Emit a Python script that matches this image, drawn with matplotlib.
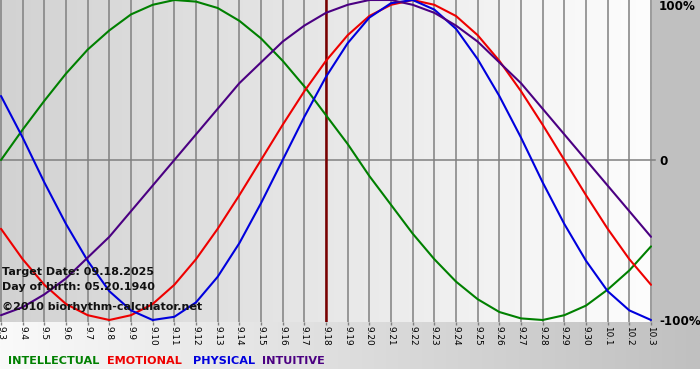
import matplotlib
matplotlib.use("Agg")
import matplotlib.pyplot as plt
import numpy as np
from matplotlib.colors import LinearSegmentedColormap

# days shown on the x axis (9.3 .. 10.3)
tick_labels = ["9.3", "9.4", "9.5", "9.6", "9.7", "9.8", "9.9", "9.10", "9.11",
               "9.12", "9.13", "9.14", "9.15", "9.16", "9.17", "9.18", "9.19",
               "9.20", "9.21", "9.22", "9.23", "9.24", "9.25", "9.26", "9.27",
               "9.28", "9.29", "9.30", "10.1", "10.2", "10.3"]
target_label = "9.18"

# cycle values per day (-1 .. 1)
intellectual = [0.00, 0.19, 0.37, 0.54, 0.69, 0.81, 0.91, 0.97, 1.00, 0.99,
                0.95, 0.87, 0.76, 0.62, 0.46, 0.28, 0.10, -0.10, -0.28, -0.46,
                -0.62, -0.76, -0.87, -0.95, -0.99, -1.00, -0.97, -0.91, -0.81,
                -0.69, -0.54]
emotional = [-0.43, -0.62, -0.78, -0.90, -0.97, -1.00, -0.97, -0.90, -0.78,
             -0.62, -0.43, -0.22, 0.00, 0.22, 0.43, 0.62, 0.78, 0.90, 0.97,
             1.00, 0.97, 0.90, 0.78, 0.62, 0.43, 0.22, 0.00, -0.22, -0.43,
             -0.62, -0.78]
physical = [0.40, 0.14, -0.14, -0.40, -0.63, -0.82, -0.94, -1.00, -0.98, -0.89,
            -0.73, -0.52, -0.27, 0.00, 0.27, 0.52, 0.73, 0.89, 0.98, 1.00, 0.94,
            0.82, 0.63, 0.40, 0.14, -0.14, -0.40, -0.63, -0.82, -0.94, -1.00]
intuitive = [-0.97, -0.92, -0.84, -0.74, -0.61, -0.48, -0.32, -0.16, 0.00, 0.16,
             0.32, 0.48, 0.61, 0.74, 0.84, 0.92, 0.97, 1.00, 1.00, 0.97, 0.92,
             0.84, 0.74, 0.61, 0.48, 0.32, 0.16, 0.00, -0.16, -0.32, -0.48]

series = [
    ("INTELLECTUAL", intellectual, "#008000"),
    ("EMOTIONAL", emotional, "#ee0000"),
    ("PHYSICAL", physical, "#0000dd"),
    ("INTUITIVE", intuitive, "#4b0082"),
]

info_lines = ["Target Date: 09.18.2025", "Day of birth: 05.20.1940"]
copyright_text = "\u00a92010 biorhythm-calculator.net"

plt.rcParams["font.family"] = ["DejaVu Sans"]

W, H = 700, 380
fig = plt.figure(figsize=(W / 100, H / 100), dpi=100)
fig.patch.set_facecolor("white")

# background panels (right grey strip, bottom gradient strip)
bg = fig.add_axes([0, 0, 1, 1], zorder=-10)
bg.set_xlim(0, W)
bg.set_ylim(H, 0)
bg.axis("off")
strip_cmap = LinearSegmentedColormap.from_list("strip", ["#fafafa", "#c0c0c0"])
bg.imshow(np.linspace(0, 1, 256)[None, :], cmap=strip_cmap, aspect="auto",
          extent=[0, W, 369, 321], zorder=0)
bg.add_patch(plt.Rectangle((652, 0), W - 652, 321, color="#c0c0c0", zorder=1))

# plot area
n = len(tick_labels)
x = np.arange(n)
ax = fig.add_axes([0, 1 - 322 / H, 652 / W, 322 / H])
ax.set_xlim(-0.046, n - 1 + 0.046)
ax.set_ylim(-1.0125, 1.0)
area_cmap = LinearSegmentedColormap.from_list("area", ["#d2d2d2", "#fdfdfd"])
ax.imshow(np.linspace(0, 1, 256)[None, :], cmap=area_cmap, aspect="auto",
          extent=[-0.046, n - 1 + 0.046, -1.0125, 1.0], zorder=0)

for xi in x:
    ax.axvline(xi, color="#808080", lw=1.1, zorder=1)
ax.axhline(0, color="#808080", lw=1.1, zorder=1, clip_on=False,
           xmax=1.005)
ax.axvline(tick_labels.index(target_label), color="#7a0000", lw=1.8, zorder=2)

for name, vals, color in series:
    ax.plot(x, vals, color=color, lw=1.5, zorder=3, solid_capstyle="round",
            solid_joinstyle="round")

for s in ax.spines.values():
    s.set_visible(False)

ax.set_xticks(x, tick_labels, rotation=270, fontsize=6.4)
ax.tick_params(axis="x", length=2, width=1, color="#808080", pad=1)

ax.yaxis.tick_right()
ax.set_yticks([-1, 0, 1], ["-100%", "0", "100%"])
ax.tick_params(axis="y", length=0, pad=5, labelsize=8.6)
for lab in ax.get_yticklabels():
    lab.set_fontweight("bold")
ax.get_yticklabels()[2].set_va("top")

# info text
for i, line in enumerate(info_lines):
    fig.text(2 / W, 1 - (272 + 15 * i) / H, line, fontsize=8.0,
             fontweight="bold", color="#111111", va="center", ha="left")
fig.text(2 / W, 1 - 307 / H, copyright_text, fontsize=8.0,
         fontweight="bold", color="#111111", va="center", ha="left")

# legend words
legend_x = [8, 107, 193, 262]
for (name, vals, color), lx in zip(series, legend_x):
    fig.text(lx / W, 1 - 361 / H, name, fontsize=8.1, fontweight="bold",
             color=color, va="center", ha="left")

fig.savefig("out.png", dpi=100)
